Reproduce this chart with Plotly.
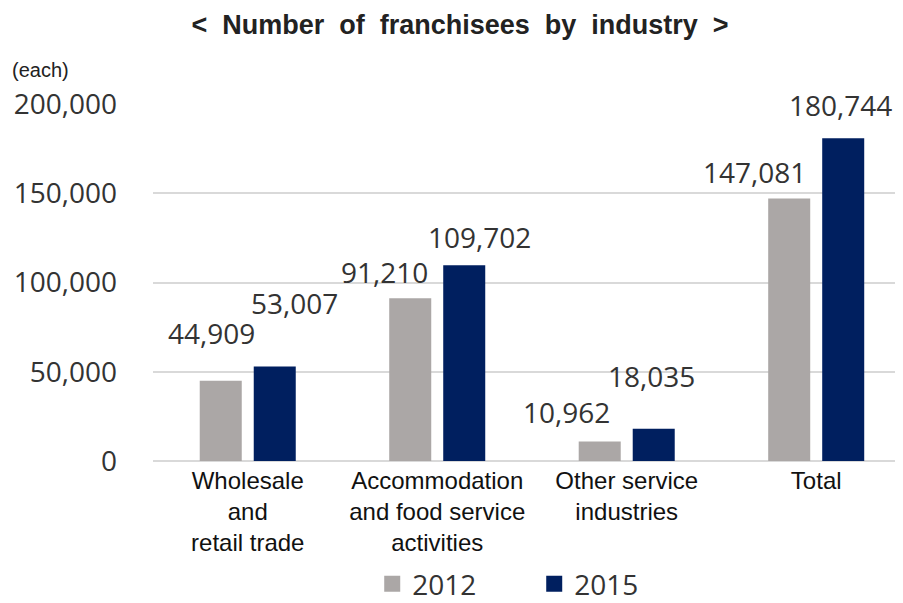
import plotly.graph_objects as go

categories = ["Wholesale<br>and<br>retail trade",
              "Accommodation<br>and food service<br>activities",
              "Other service<br>industries",
              "Total"]
series_names = ["2012", "2015"]
values_2012 = [44909, 91210, 10962, 147081]
values_2015 = [53007, 109702, 18035, 180744]
y_ticks = [0, 50000, 100000, 150000, 200000]

# label placement offsets (px) relative to bar centre / bar top
label_dx_2012 = [-9, -26, -33, -35]
label_dy_2012 = [48, 26, 29, 26]
label_dx_2015 = [20, 15, -2, -3]
label_dy_2015 = [63, 28, 53, 33]
bar_half_slot = 27

colors = {"2012": "#ABA7A6", "2015": "#001F5F"}
num_font = dict(family="Open Sans", size=28, color="#333333")

fig = go.Figure()
fig.add_trace(go.Bar(name=series_names[0], x=categories, y=values_2012,
                     marker=dict(color=colors["2012"], line=dict(width=0)),
                     showlegend=False))
fig.add_trace(go.Bar(name=series_names[1], x=categories, y=values_2015,
                     marker=dict(color=colors["2015"], line=dict(width=0)),
                     showlegend=False))
for name in series_names:
    fig.add_trace(go.Scatter(name=name, x=[None], y=[None], mode="markers",
                             marker=dict(symbol="square", size=16,
                                         color=colors[name]),
                             showlegend=True, hoverinfo="skip"))

annotations = []
for i, cat in enumerate(categories):
    annotations.append(dict(x=cat, y=values_2012[i], xref="x", yref="y",
                            text=f"{values_2012[i]:,}", showarrow=False,
                            xanchor="center", yanchor="middle",
                            xshift=-bar_half_slot + label_dx_2012[i],
                            yshift=label_dy_2012[i], font=num_font))
    annotations.append(dict(x=cat, y=values_2015[i], xref="x", yref="y",
                            text=f"{values_2015[i]:,}", showarrow=False,
                            xanchor="center", yanchor="middle",
                            xshift=bar_half_slot + label_dx_2015[i],
                            yshift=label_dy_2015[i], font=num_font))

annotations.append(dict(x=-0.1907, y=1.095, xref="paper", yref="paper",
                        text="(each)", showarrow=False, xanchor="left",
                        yanchor="middle",
                        font=dict(family="Liberation Sans Narrow, Liberation Sans",
                                  size=20, color="#222222")))

fig.update_layout(
    width=895, height=595,
    margin=dict(l=145, r=0, t=96, b=142, autoexpand=False),
    paper_bgcolor="white", plot_bgcolor="white",
    barmode="group", bargap=0.43, bargroupgap=0.222,
    title=dict(text="&lt;  Number  of  franchisees  by  industry  &gt;",
               x=452 / 895, xanchor="center", xref="container",
               y=1 - 17 / 595, yanchor="middle", yref="container",
               font=dict(family="Liberation Sans", size=27, color="#222222",
                         weight="bold")),
    legend=dict(orientation="h", x=0.2923, xanchor="left", y=-0.345,
                yanchor="middle", font=dict(family="Open Sans", size=28,
                                            color="#333333"),
                itemwidth=30, entrywidth=117, entrywidthmode="pixels",
                tracegroupgap=0),
    annotations=annotations,
    showlegend=True,
)
fig.update_xaxes(range=[-0.5, 3.458], showgrid=False, showline=False,
                 automargin=False, ticks="", ticklabelstandoff=3,
                 tickfont=dict(family="Liberation Sans", size=24,
                               color="#111111"))
fig.update_yaxes(range=[0, 200000], tickvals=y_ticks,
                 ticktext=[f"{v:,}" for v in y_ticks],
                 showgrid=True, gridcolor="#D9D9D9", gridwidth=2,
                 zeroline=True, zerolinecolor="#D9D9D9", zerolinewidth=2,
                 showline=False, ticks="", ticklabelstandoff=35,
                 automargin=False, tickfont=num_font)

fig.write_html("out.html")
